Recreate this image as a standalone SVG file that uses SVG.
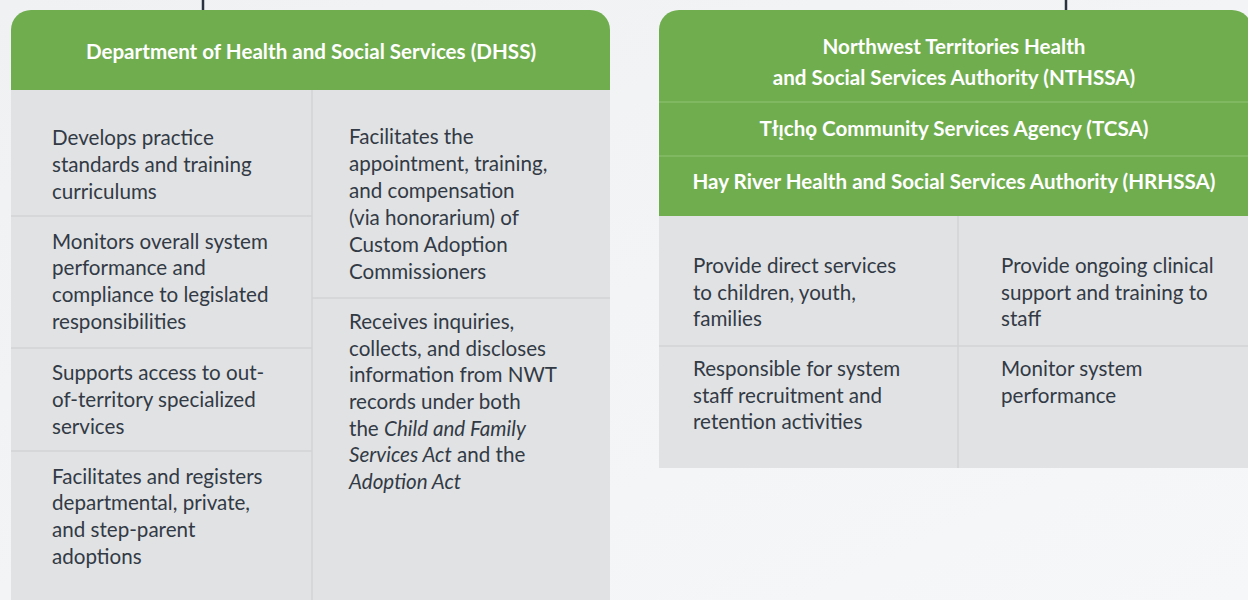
<svg xmlns="http://www.w3.org/2000/svg" width="1248" height="600" viewBox="0 0 1248 600">
  <defs>
    <style>
      .hdr { fill: #ffffff; font-family: Lato, "Open Sans", "DejaVu Sans", sans-serif; font-weight: bold; font-size: 20.6px; text-anchor: middle; }
      .body { fill: #323a45; font-family: Lato, "Open Sans", "DejaVu Sans", sans-serif; font-size: 20.6px; }
      .green { fill: #70ad4f; }
      .panel { fill: #e1e2e4; }
      .div { stroke: #d1d3d6; stroke-width: 1.5; fill: none; }
      .gdiv { stroke: #86bd68; stroke-width: 1.5; fill: none; }
      .conn { stroke: #2b3340; stroke-width: 2.5; fill: none; }
    </style>
    <linearGradient id="bg" x1="0" y1="0" x2="1" y2="1">
      <stop offset="0" stop-color="#eff1f3"/>
      <stop offset="1" stop-color="#f6f7f8"/>
    </linearGradient>
  </defs>
  <rect x="0" y="0" width="1248" height="600" fill="url(#bg)"/>

  <g id="connectors">
    <line class="conn" x1="203" y1="0" x2="203" y2="11"/>
    <line class="conn" x1="1066" y1="0" x2="1066" y2="11"/>
  </g>

  <g id="dhss">
    <path class="green" d="M11 90 V30 A20 20 0 0 1 31 10 H590 A20 20 0 0 1 610 30 V90 Z"/>
    <rect class="panel" x="11" y="90" width="599" height="520"/>
    <text class="hdr" x="311" y="59">Department of Health and Social Services (DHSS)</text>
    <line class="div" x1="312" y1="90" x2="312" y2="600"/>
    <line class="div" x1="11" y1="216" x2="312" y2="216"/>
    <line class="div" x1="11" y1="348" x2="312" y2="348"/>
    <line class="div" x1="11" y1="451" x2="312" y2="451"/>
    <line class="div" x1="312" y1="298" x2="610" y2="298"/>
    <g class="body">
      <text x="52" y="145">Develops practice</text>
      <text x="52" y="172">standards and training</text>
      <text x="52" y="199">curriculums</text>
      <text x="52" y="249">Monitors overall system</text>
      <text x="52" y="275">performance and</text>
      <text x="52" y="302">compliance to legislated</text>
      <text x="52" y="329">responsibilities</text>
      <text x="52" y="380">Supports access to out-</text>
      <text x="52" y="407">of-territory specialized</text>
      <text x="52" y="434">services</text>
      <text x="52" y="484">Facilitates and registers</text>
      <text x="52" y="510">departmental, private,</text>
      <text x="52" y="537">and step-parent</text>
      <text x="52" y="564">adoptions</text>
      <text x="349" y="144">Facilitates the</text>
      <text x="349" y="171">appointment, training,</text>
      <text x="349" y="198">and compensation</text>
      <text x="349" y="225">(via honorarium) of</text>
      <text x="349" y="252">Custom Adoption</text>
      <text x="349" y="279">Commissioners</text>
      <text x="349" y="329">Receives inquiries,</text>
      <text x="349" y="356">collects, and discloses</text>
      <text x="349" y="382">information from NWT</text>
      <text x="349" y="409">records under both</text>
      <text x="349" y="436">the <tspan font-style="italic">Child and Family</tspan></text>
      <text x="349" y="462"><tspan font-style="italic">Services Act</tspan> and the</text>
      <text x="349" y="489"><tspan font-style="italic">Adoption Act</tspan></text>
    </g>
  </g>

  <g id="authorities">
    <path class="green" d="M659 216 V30 A20 20 0 0 1 679 10 H1232 A20 20 0 0 1 1252 30 V216 Z"/>
    <rect class="panel" x="659" y="216" width="593" height="252"/>
    <line class="gdiv" x1="659" y1="102" x2="1252" y2="102"/>
    <line class="gdiv" x1="659" y1="156" x2="1252" y2="156"/>
    <text class="hdr" x="954" y="54">Northwest Territories Health</text>
    <text class="hdr" x="954" y="85">and Social Services Authority (NTHSSA)</text>
    <text class="hdr" x="954" y="136">Tłı̨chǫ Community Services Agency (TCSA)</text>
    <text class="hdr" x="954" y="189">Hay River Health and Social Services Authority (HRHSSA)</text>
    <line class="div" x1="958" y1="216" x2="958" y2="468"/>
    <line class="div" x1="659" y1="346" x2="1252" y2="346"/>
    <g class="body">
      <text x="693" y="273">Provide direct services</text>
      <text x="693" y="300">to children, youth,</text>
      <text x="693" y="326">families</text>
      <text x="693" y="376">Responsible for system</text>
      <text x="693" y="403">staff recruitment and</text>
      <text x="693" y="429">retention activities</text>
      <text x="1001" y="273">Provide ongoing clinical</text>
      <text x="1001" y="300">support and training to</text>
      <text x="1001" y="326">staff</text>
      <text x="1001" y="376">Monitor system</text>
      <text x="1001" y="403">performance</text>
    </g>
  </g>
</svg>
